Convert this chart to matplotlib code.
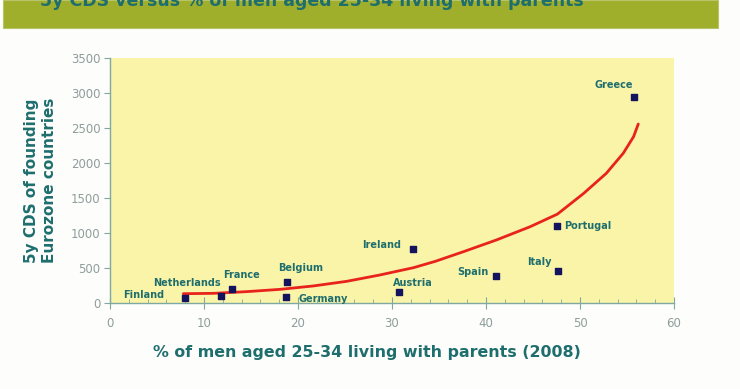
import matplotlib
matplotlib.use("Agg")
import matplotlib.pyplot as plt
from matplotlib.patches import Rectangle
from matplotlib.ticker import MultipleLocator

plt.rcParams['font.family'] = ['DejaVu Sans']

countries = ["Finland", "Netherlands", "France", "Belgium", "Germany", "Ireland",
             "Austria", "Spain", "Italy", "Portugal", "Greece"]
pct_living = [8.0, 11.8, 13.0, 18.8, 18.7, 32.2, 30.7, 41.1, 47.7, 47.6, 55.7]
cds = [75, 100, 195, 300, 80, 771, 153, 386, 453, 1096, 2938]

# trend line
trend_x = [7.8, 11.0, 14.5, 18.1, 21.6, 25.2, 28.7, 32.3, 34.6, 37.6, 41.1, 44.7,
           47.6, 50.4, 52.8, 54.6, 55.7, 56.2]
trend_y = [133, 138, 162, 195, 243, 310, 400, 505, 595, 733, 900, 1090,
           1270, 1567, 1853, 2139, 2376, 2557]

# label offsets in points (dx, dy, ha)
label_pos = {
    "Finland": (-15, 2, "right"),
    "Netherlands": (0, 9, "right"),
    "France": (7, 10, "center"),
    "Belgium": (10, 10, "center"),
    "Germany": (9, -1, "left"),
    "Ireland": (-8, 3, "right"),
    "Austria": (10, 7, "center"),
    "Spain": (-6, 3, "right"),
    "Italy": (-5, 7, "right"),
    "Portugal": (5, 0, "left"),
    "Greece": (-14, 9, "center"),
}

teal = "#1f6e6e"
W, H = 740, 389
fig = plt.figure(figsize=(W / 100, H / 100), dpi=100)
fig.patch.set_facecolor("#fdfdfb")

# title band
fig.patches.append(Rectangle((3 / W, 1 - 28 / H), 715 / W, 28 / H,
                             transform=fig.transFigure, facecolor="#9fae2b",
                             edgecolor="#b8c46a", lw=0.8, zorder=0))
fig.text(40 / W, 1 - 6 / H, "5y CDS versus % of men aged 25-34 living with parents",
         fontsize=12.5, fontweight="bold", color=teal, va="baseline", ha="left")

ax = fig.add_axes([110 / W, 1 - 303 / H, 564 / W, 245 / H])
ax.set_facecolor("#faf4a9")
ax.set_xlim(0, 60)
ax.set_ylim(0, 3500)
for s in ["top", "right"]:
    ax.spines[s].set_visible(False)
for s in ["left", "bottom"]:
    ax.spines[s].set_color("#7fa8a3")
    ax.spines[s].set_linewidth(1.0)

ax.xaxis.set_major_locator(MultipleLocator(10))
ax.xaxis.set_minor_locator(MultipleLocator(2))
ax.yaxis.set_major_locator(MultipleLocator(500))
ax.tick_params(axis="x", which="major", direction="inout", length=8, color="#7fa8a3",
               labelsize=8.5, labelcolor="#8e9e9c", pad=6)
ax.tick_params(axis="x", which="minor", direction="in", length=3, color="#7fa8a3")
ax.tick_params(axis="y", which="major", direction="out", length=4, color="#7fa8a3",
               labelsize=8.5, labelcolor="#8e9e9c", pad=3)

ax.plot(trend_x, trend_y, color="#e8231c", lw=2.0, zorder=2,
        solid_capstyle="round", solid_joinstyle="round")
ax.scatter(pct_living, cds, marker="s", s=14, color="#14145e", zorder=3)

for c, x, y in zip(countries, pct_living, cds):
    dx, dy, ha = label_pos[c]
    ax.annotate(c, (x, y), xytext=(dx, dy), textcoords="offset points",
                ha=ha, va="center", fontsize=7, fontweight="bold", color=teal)

fig.text(367 / W, 1 - 352 / H, "% of men aged 25-34 living with parents (2008)",
         fontsize=11.4, fontweight="bold", color=teal, ha="center", va="center")
ax.set_ylabel("5y CDS of founding\nEurozone countries", fontsize=11,
              fontweight="bold", color=teal, labelpad=10, linespacing=1.25)

fig.savefig("out.png", dpi=100, facecolor=fig.get_facecolor())
